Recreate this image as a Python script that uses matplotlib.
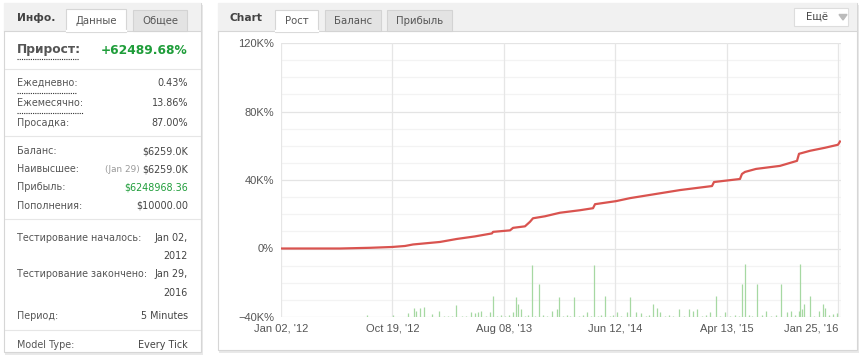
import numpy as np
import matplotlib.pyplot as plt
from matplotlib.patches import Rectangle, Polygon

# growth curve, x in tick units (0 = Jan 02 '12, 5 = Jan 25 '16), y in K%
growth_x = [0.000, 0.530, 0.799, 0.996, 1.113, 1.185, 1.427, 1.580, 1.741, 1.894,
            1.903, 2.056, 2.083, 2.190, 2.235, 2.262, 2.370, 2.504, 2.684, 2.801,
            2.819, 3.007, 3.133, 3.357, 3.582, 3.869, 3.887, 4.120, 4.138, 4.165,
            4.264, 4.479, 4.632, 4.650, 4.749, 4.883, 5.000, 5.018]
growth_y = [0.00, 0.00, 0.41, 0.88, 1.47, 2.35, 3.82, 5.59, 7.06, 8.82,
            9.71, 10.59, 12.06, 12.94, 15.59, 17.65, 18.82, 20.88, 22.35, 23.53,
            25.88, 27.65, 29.41, 31.76, 34.12, 36.47, 38.82, 40.59, 43.53, 44.71,
            46.47, 48.24, 51.18, 55.29, 57.06, 58.82, 60.59, 62.49]

# green volume spikes at the bottom
vol_x = [0.772, 1.005, 1.140, 1.194, 1.212, 1.248, 1.284, 1.355, 1.418, 1.463,
         1.499, 1.535, 1.571, 1.625, 1.661, 1.706, 1.741, 1.768, 1.795, 1.840,
         1.876, 1.903, 1.939, 1.975, 2.011, 2.047, 2.083, 2.110, 2.127, 2.154,
         2.190, 2.217, 2.253, 2.280, 2.316, 2.352, 2.388, 2.433, 2.478, 2.496,
         2.531, 2.567, 2.594, 2.630, 2.675, 2.711, 2.747, 2.783, 2.810, 2.846,
         2.873, 2.908, 2.953, 2.980, 3.016, 3.052, 3.106, 3.133, 3.187, 3.232,
         3.276, 3.303, 3.339, 3.375, 3.402, 3.447, 3.483, 3.519, 3.573, 3.618,
         3.662, 3.698, 3.734, 3.779, 3.815, 3.851, 3.905, 3.941, 3.986, 4.031,
         4.075, 4.111, 4.138, 4.165, 4.201, 4.228, 4.273, 4.318, 4.354, 4.399,
         4.443, 4.488, 4.542, 4.578, 4.614, 4.650, 4.659, 4.677, 4.695, 4.749,
         4.785, 4.829, 4.865, 4.883, 4.919, 4.955, 4.991]
vol_h = [1.7, 2, 4, 9, 6, 9, 10, 3, 6, 1.5,
         1.5, 1.5, 12, 1.5, 1.5, 5, 4, 5, 6, 1.5,
         5, 21, 1.5, 2, 1.5, 2, 5, 20, 13, 8,
         1.5, 2, 52, 1.5, 33, 2, 1.5, 6, 8, 20,
         1.5, 2, 1.5, 20, 1.5, 2, 5, 1.5, 52, 1.5,
         2, 21, 1.5, 2, 5, 1.5, 5, 20, 5, 4,
         1.5, 2, 13, 9, 5, 1.5, 2, 1.5, 8, 1.5,
         8, 6, 8, 1.5, 2, 5, 21, 1.5, 5, 1.5,
         2, 1.5, 33, 53, 2, 1.5, 33, 2, 6, 1.5,
         2, 33, 5, 6, 2, 6, 53, 8, 13, 21,
         1.5, 6, 13, 9, 2, 3, 4]

x_ticks = [0, 1, 2, 3, 4, 5]
x_labels = ["Jan 02, '12", "Oct 19, '12", "Aug 08, '13", "Jun 12, '14", "Apr 13, '15", "Jan 25, '16"]
y_ticks = [-40, 0, 40, 80, 120]
y_labels = ["\u221240K%", "0%", "40K%", "80K%", "120K%"]

info_rows = [("Ежедневно:", "0.43%", 83), ("Ежемесячно:", "13.86%", 103), ("Просадка:", "87.00%", 123),
             ("Баланс:", "$6259.0K", 151), ("Пополнения:", "$10000.00", 206),
             ("Тестирование началось:", "Jan 02,", 238), ("", "2012", 256),
             ("Тестирование закончено:", "Jan 29,", 274), ("", "2016", 293),
             ("Период:", "5 Minutes", 316), ("Model Type:", "Every Tick", 345)]

W, H = 864, 356
fig = plt.figure(figsize=(W / 100, H / 100), dpi=100)
fig.patch.set_facecolor("white")

bg = fig.add_axes([0, 0, 1, 1])
bg.set_xlim(0, W)
bg.set_ylim(H, 0)
bg.axis("off")

txt = "#555555"
green = "#1f9d3a"
fs = 6.9


def box(x0, y0, x1, y1, fc, ec="#d6d6d6", lw=0.8, z=1):
    bg.add_patch(Rectangle((x0, y0), x1 - x0, y1 - y0, facecolor=fc, edgecolor=ec, lw=lw, zorder=z))


def hline(x0, x1, y, c="#e6e6e6", ls="-", lw=0.8):
    bg.plot([x0, x1], [y, y], color=c, lw=lw, ls=ls, zorder=3)


# panels with soft shadow
for (x0, y0, x1, y1) in [(4, 3, 201, 352), (218, 3, 857, 350)]:
    box(x0 + 1, y0 + 2, x1 + 2, y1 + 3, "#e9e9e9", ec="none", z=0)
    box(x0, y0, x1, y1, "white")
    box(x0, y0, x1, 31, "#f1f1f1", ec="none", z=1.5)
    hline(x0, x1, 31, c="#d6d6d6")

# left panel header
bg.text(17, 18, "Инфо.", fontsize=fs + 0.8, fontweight="bold", color="#444", va="center", zorder=5)
box(66, 9, 126, 31.5, "white", ec="#d6d6d6", z=4)
bg.plot([66.5, 125.5], [31, 31], color="white", lw=1.6, zorder=4.5)
bg.text(96, 21, "Данные", fontsize=fs + 0.4, color=txt, ha="center", va="center", zorder=5)
box(133, 10, 187, 30.5, "#e3e3e3", ec="#d3d3d3", z=4)
bg.text(160, 21, "Общее", fontsize=fs + 0.4, color=txt, ha="center", va="center", zorder=5)

# growth line
bg.text(17, 50, "Прирост:", fontsize=fs + 1.9, fontweight="bold", color="#555", va="center", zorder=5)
hline(17, 79, 58.5, c="#333333", ls=(0, (1, 1)))
bg.text(188, 50, "+62489.68%", fontsize=fs + 1.9, fontweight="bold", color=green, ha="right", va="center", zorder=5)
for y in [69, 136, 219, 330]:
    hline(5, 200, y)

for lab, val, y in info_rows:
    bg.text(17, y, lab, fontsize=fs, color=txt, va="center", zorder=5)
    bg.text(188, y, val, fontsize=fs, color="#444", ha="right", va="center", zorder=5)
hline(17, 77, 93, c="#333333", ls=(0, (1, 1)))
hline(17, 83, 113, c="#333333", ls=(0, (1, 1)))

bg.text(17, 169, "Наивысшее:", fontsize=fs, color=txt, va="center", zorder=5)
bg.text(188, 169, "$6259.0K", fontsize=fs, color="#444", ha="right", va="center", zorder=5)
bg.text(140, 169, "(Jan 29)", fontsize=fs - 0.5, color="#999999", ha="right", va="center", zorder=5)
bg.text(17, 187, "Прибыль:", fontsize=fs, color=txt, va="center", zorder=5)
bg.text(188, 187, "$6248968.36", fontsize=fs, color=green, ha="right", va="center", zorder=5)

# right panel header
bg.text(230, 18, "Chart", fontsize=fs + 0.8, fontweight="bold", color="#444", va="center", zorder=5)
box(275, 10, 318, 31.5, "white", ec="#d6d6d6", z=4)
bg.plot([275.5, 317.5], [31, 31], color="white", lw=1.6, zorder=4.5)
bg.text(297, 21, "Рост", fontsize=fs + 0.4, color=txt, ha="center", va="center", zorder=5)
box(325, 10, 381, 30.5, "#e3e3e3", ec="#d3d3d3", z=4)
bg.text(353, 21, "Баланс", fontsize=fs + 0.4, color=txt, ha="center", va="center", zorder=5)
box(387, 10, 452, 30.5, "#e3e3e3", ec="#d3d3d3", z=4)
bg.text(419.5, 21, "Прибыль", fontsize=fs + 0.4, color=txt, ha="center", va="center", zorder=5)
box(794, 8, 848, 26, "white", ec="#dddddd", z=4)
bg.text(817, 17, "Ещё", fontsize=fs + 0.4, color="#444", ha="center", va="center", zorder=5)
bg.add_patch(Polygon([[839, 14.5], [847, 14.5], [843, 20]], closed=True, color="#bbbbbb", zorder=5))

# chart area
ax = fig.add_axes([281 / W, 1 - 317 / H, 560 / W, 274 / H])
ax.set_zorder(2)
ax.set_facecolor("none")
ax.set_xlim(0, 5.027)
ax.set_ylim(-40, 120)
for v in np.arange(-40, 121, 10):
    ax.axhline(v, color="#e4e4e4" if v % 40 == 0 else "#f3f3f3", lw=0.9, zorder=0)
for t in x_ticks:
    ax.axvline(t, color="#e6e6e6", lw=0.9, zorder=0)
ax.axvline(5.027, color="#e6e6e6", lw=0.9, zorder=0)
for s in ax.spines.values():
    s.set_visible(False)
ax.set_xticks(x_ticks)
ax.set_xticklabels(x_labels, fontfamily="Liberation Sans", fontsize=8, color=txt)
ax.get_xticklabels()[-1].set_horizontalalignment("right")
ax.set_yticks(y_ticks)
ax.set_yticklabels(y_labels, fontfamily="Liberation Sans", fontsize=8, color=txt)
ax.tick_params(length=0, pad=5)

ax2 = ax.twinx()
ax2.set_ylim(0, 274)
ax2.vlines(vol_x, 0, vol_h, color="#a6d8a2", lw=0.9, zorder=1)
ax2.axis("off")

ax3 = ax.twinx()
ax3.set_ylim(-40, 120)
ax3.plot(growth_x, growth_y, color="#d9534f", lw=1.6, zorder=3)
ax3.axis("off")

fig.savefig("out.png", dpi=100)
